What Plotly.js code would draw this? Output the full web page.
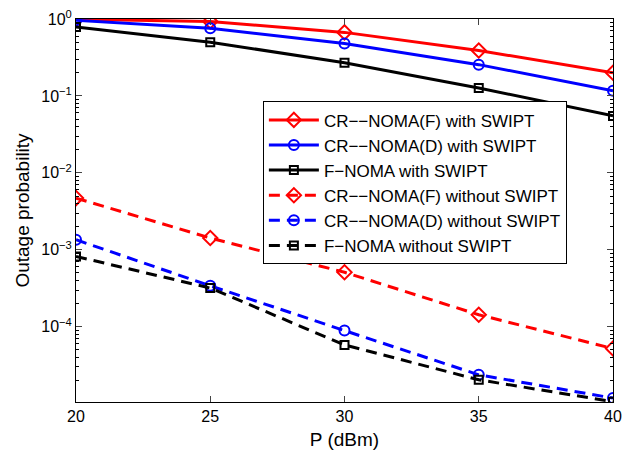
<!DOCTYPE html>
<html>
<head>
<meta charset="utf-8">
<script src="https://cdn.plot.ly/plotly-3.0.1.min.js"></script>
<style>html,body{margin:0;padding:0;background:#fff;}#chart{width:640px;height:451px;}</style>
</head>
<body>
<div id="chart"></div>
<script>
const P = [20, 25, 30, 35, 40];
const crF_with = [0.99, 0.93, 0.67, 0.39, 0.20];
const crD_with = [0.96, 0.76, 0.48, 0.255, 0.117];
const fN_with = [0.79, 0.50, 0.27, 0.127, 0.055];
const crF_without = [4.7e-3, 1.42e-3, 5.1e-4, 1.43e-4, 5.2e-5];
const crD_without = [1.35e-3, 3.4e-4, 8.9e-5, 2.37e-5, 1.18e-5];
const fN_without = [8.2e-4, 3.18e-4, 5.8e-5, 2.04e-5, 1.06e-5];
const names = ['CR\u2212\u2212NOMA(F) with SWIPT', 'CR\u2212\u2212NOMA(D) with SWIPT', 'F\u2212NOMA with SWIPT',
  'CR\u2212\u2212NOMA(F) without SWIPT', 'CR\u2212\u2212NOMA(D) without SWIPT', 'F\u2212NOMA without SWIPT'];
const yTickVals = [1e-4, 1e-3, 1e-2, 1e-1, 1];
const yTickText = ['10<sup>\u22124</sup>', '10<sup>\u22123</sup>', '10<sup>\u22122</sup>', '10<sup>\u22121</sup>', '10<sup>0</sup>'];
const xTickVals = [20, 25, 30, 35, 40];

const minorVals = [];
for (let e = -5; e < 0; e++) for (let m = 2; m <= 9; m++) minorVals.push(m * Math.pow(10, e));

function tr(y, name, color, sym, size, dash) {
  return {x: P, y: y, name: name, type: 'scatter', mode: 'lines+markers',
    line: {color: color, width: 3, dash: dash},
    marker: {symbol: sym, size: size, color: color, line: {color: color, width: 2}}};
}
const data = [
  tr(crF_with, names[0], '#ff0000', 'diamond-open', 11, 'solid'),
  tr(crD_with, names[1], '#0000ff', 'circle-open', 10, 'solid'),
  tr(fN_with, names[2], '#000000', 'square-open', 8, 'solid'),
  tr(crF_without, names[3], '#ff0000', 'diamond-open', 11, '11px,7px'),
  tr(crD_without, names[4], '#0000ff', 'circle-open', 10, '11px,7px'),
  tr(fN_without, names[5], '#000000', 'square-open', 8, '11px,7px')
];
const font = {family: 'Liberation Sans, Arial, sans-serif', color: '#000'};
const layout = {
  width: 640, height: 451,
  margin: {l: 76, r: 27, t: 19, b: 49},
  paper_bgcolor: '#fff', plot_bgcolor: '#fff',
  font: Object.assign({size: 16}, font),
  showlegend: true,
  legend: {x: 0.348, y: 0.785, xanchor: 'left', yanchor: 'top',
    bgcolor: '#fff', bordercolor: '#000', borderwidth: 1,
    font: Object.assign({size: 17}, font), itemwidth: 50, tracegroupgap: 0},
  xaxis: {range: [20, 40], tickvals: xTickVals, ticks: 'inside', ticklen: 6,
    mirror: 'allticks', showline: true, linecolor: '#000', linewidth: 1,
    showgrid: false, zeroline: false, tickfont: Object.assign({size: 16}, font),
    title: {text: 'P (dBm)', font: Object.assign({size: 19}, font), standoff: 8}},
  yaxis: {type: 'log', range: [Math.log10(1.05e-5), 0], tickvals: yTickVals, ticktext: yTickText,
    ticks: 'inside', ticklen: 6, mirror: 'allticks', showline: true, linecolor: '#000', linewidth: 1,
    showgrid: false, zeroline: false, tickfont: Object.assign({size: 16}, font),
    minor: {tickvals: minorVals, ticks: 'inside', ticklen: 3, showgrid: false, tickcolor: '#000'},
    title: {text: 'Outage probability', font: Object.assign({size: 19}, font), standoff: 6}}
};
Plotly.newPlot('chart', data, layout, {displayModeBar: false, staticPlot: true});
</script>
</body>
</html>
